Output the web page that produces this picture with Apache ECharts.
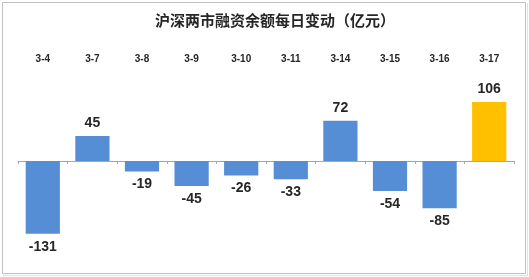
<!DOCTYPE html>
<html><head><meta charset="utf-8">
<script src="https://cdn.jsdelivr.net/npm/echarts@6/dist/echarts.min.js"></script>
<style>html,body{margin:0;padding:0;background:#fff}#c{width:529px;height:277px}</style>
</head><body><div id="c"></div>
<script>
const categories = ['3-4','3-7','3-8','3-9','3-10','3-11','3-14','3-15','3-16','3-17'];
const values = [-131, 45, -19, -45, -26, -33, 72, -54, -85, 106];
const titleText = '沪深两市融资余额每日变动（亿元）';
const highlightIndex = 9;

const chart = echarts.init(document.getElementById('c'), null, {renderer:'canvas'});
chart.setOption({
  animation: false,
  backgroundColor: '#fff',
  graphic: [
    {type:'rect', shape:{x:2.5,y:2.5,width:523,height:271}, style:{fill:'none', stroke:'#bfbfbf', lineWidth:1}, z:-1},
    {type:'line', shape:{x1:3,y1:275.5,x2:527,y2:275.5}, style:{stroke:'#e0e0e0', lineWidth:1}, z:-1},
    {type:'line', shape:{x1:527.5,y1:3,x2:527.5,y2:276}, style:{stroke:'#e0e0e0', lineWidth:1}, z:-1}
  ],
  title: {text: titleText, left: 150, top: 8,
    textStyle: {fontFamily:'Noto Sans CJK SC', fontSize:15, fontWeight:'bold', color:'#262626'}},
  grid: {left: 18, right: 15, top: 83, height: 167, containLabel: false},
  xAxis: [
    {type:'category', data: categories, axisLine:{onZero:true, lineStyle:{color:'#a6a6a6'}},
     axisTick:{show:true, length:3, lineStyle:{color:'#a6a6a6'}}, axisLabel:{show:false}},
    {type:'category', data: categories, position:'top', axisLine:{show:false}, axisTick:{show:false},
     axisLabel:{margin:19, fontFamily:'Liberation Sans', fontSize:10, fontWeight:'bold', color:'#262626'}}
  ],
  yAxis: {type:'value', min:-160, max:140, show:false, splitLine:{show:false}},
  series: [{
    type:'bar', xAxisIndex:0, barCategoryGap:'31%',
    data: values.map((v,i)=>({value:v, itemStyle:{color: i===highlightIndex ? '#ffc000' : '#558ed5'}})),
    label:{show:true, position:'outside', distance:6, fontFamily:'Liberation Sans', fontSize:14, fontWeight:'bold', color:'#262626'}
  }]
});
</script></body></html>
